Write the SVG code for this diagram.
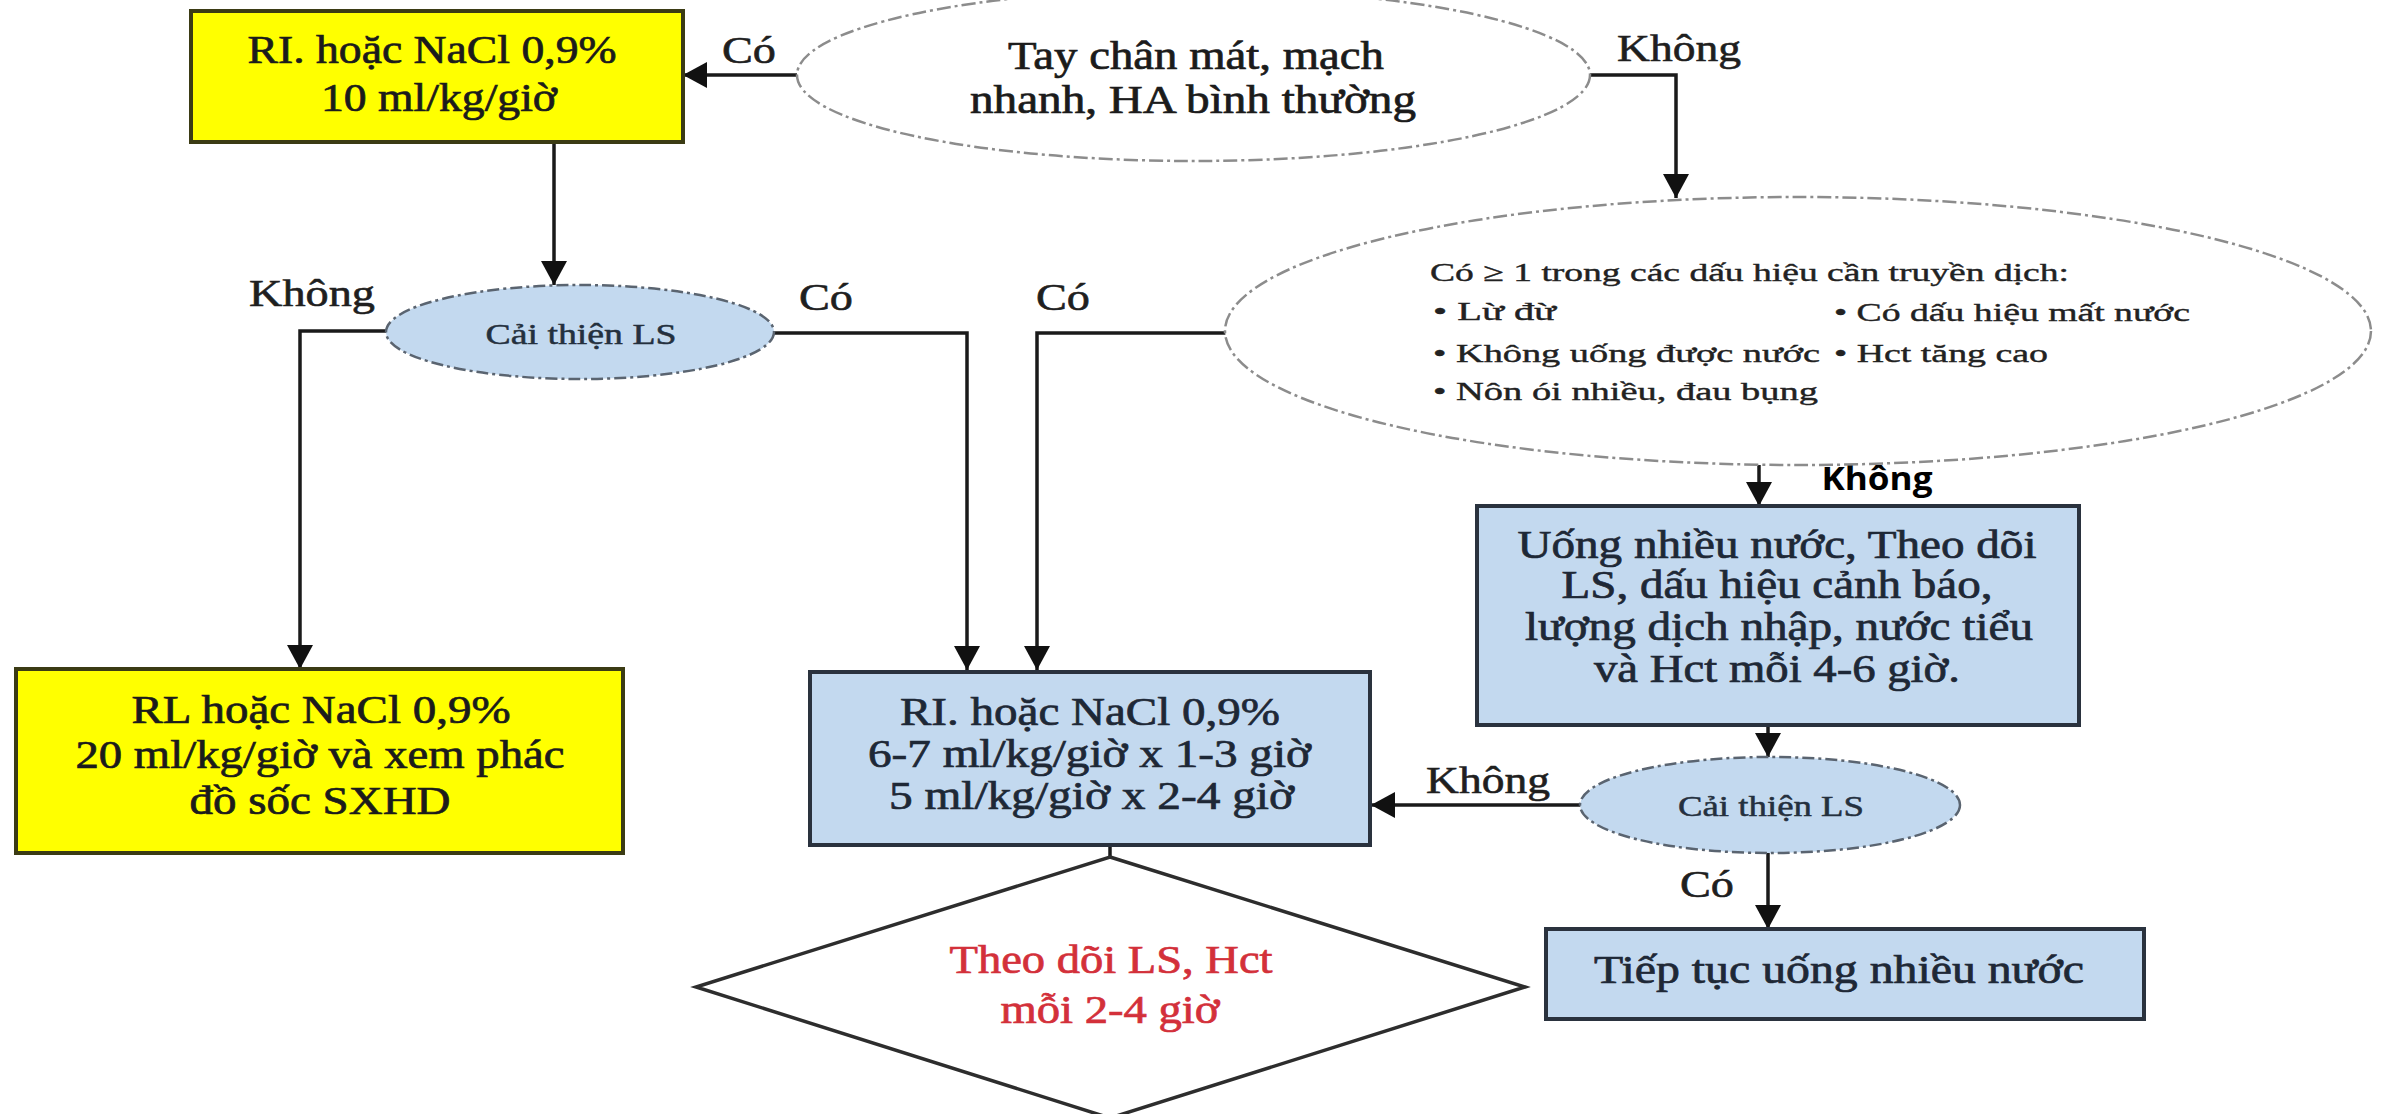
<svg xmlns="http://www.w3.org/2000/svg" width="2382" height="1114" viewBox="0 0 2382 1114">
  <defs>
    <style>
      .t { font-family: "Liberation Serif", "Times New Roman", serif; text-anchor: middle; }
      .big { font-size: 39px; fill: #1b1b1b; stroke: #1b1b1b; stroke-width: 0.7px; }
      .navy { fill: #1e2836; stroke: #1e2836; }
      .red { fill: #d3303a; stroke: #d3303a; }
      .small { font-size: 26px; fill: #222; stroke: #222; stroke-width: 0.4px; text-anchor: start; }
      .oval { font-size: 30px; fill: #24303e; stroke: #24303e; stroke-width: 0.5px; }
      .lbl { font-size: 38px; fill: #1f1f1f; stroke: #1f1f1f; stroke-width: 0.6px; }
      .sans { font-family: "Open Sans", "Noto Sans", sans-serif; font-weight: 700; font-size: 32px; fill: #000; text-anchor: middle; }
      .yellow { fill: #ffff00; stroke: #3b3b14; stroke-width: 4px; }
      .blue { fill: #c3d9ef; stroke: #2a323e; stroke-width: 4px; }
      .cloud { fill: #ffffff; stroke: #8c8c8c; stroke-width: 2.5px; stroke-dasharray: 14 4 3 4; }
      .pill { fill: #c3d9ef; stroke: #5a6470; stroke-width: 2.5px; stroke-dasharray: 12 4 3 4; }
      .diamond { fill: #ffffff; stroke: #2d2d2d; stroke-width: 3.5px; }
      .wire { fill: none; stroke: #1a1a1a; stroke-width: 3.5px; }
      .arrow { marker-end: url(#head); }
    </style>
    <marker id="head" markerUnits="userSpaceOnUse" markerWidth="24" markerHeight="26" refX="24" refY="13" orient="auto">
      <path d="M0,0 L24,13 L0,26 z" fill="#111"/>
    </marker>
  </defs>

  <rect width="2382" height="1114" fill="#ffffff"/>

  <!-- connectors -->
  <g id="connectors">
    <path class="wire arrow" d="M797,75 L683,75"/>
    <path class="wire arrow" d="M1590,75 L1676,75 L1676,198"/>
    <path class="wire arrow" d="M554,142 L554,285"/>
    <path class="wire arrow" d="M387,331 L300,331 L300,669"/>
    <path class="wire arrow" d="M773,333 L967,333 L967,670"/>
    <path class="wire arrow" d="M1226,333 L1037,333 L1037,670"/>
    <path class="wire arrow" d="M1759,465 L1759,506"/>
    <path class="wire arrow" d="M1768,725 L1768,757"/>
    <path class="wire arrow" d="M1581,805 L1371,805"/>
    <path class="wire arrow" d="M1768,853 L1768,929"/>
    <path class="wire" d="M1110,845 L1110,857"/>

    <text class="t lbl" x="749" y="63" textLength="54" lengthAdjust="spacingAndGlyphs">Có</text>
    <text class="t lbl" x="1679" y="61" textLength="124" lengthAdjust="spacingAndGlyphs">Không</text>
    <text class="t lbl" x="312" y="306" textLength="126" lengthAdjust="spacingAndGlyphs">Không</text>
    <text class="t lbl" x="826" y="310" textLength="54" lengthAdjust="spacingAndGlyphs">Có</text>
    <text class="t lbl" x="1063" y="310" textLength="54" lengthAdjust="spacingAndGlyphs">Có</text>
    <text class="sans" x="1877" y="490" textLength="111" lengthAdjust="spacingAndGlyphs">Không</text>
    <text class="t lbl" x="1488" y="793" textLength="124" lengthAdjust="spacingAndGlyphs">Không</text>
    <text class="t lbl" x="1707" y="897" textLength="54" lengthAdjust="spacingAndGlyphs">Có</text>
  </g>

  <!-- rapid infusion, first step -->
  <g id="fluid-10">
    <rect class="yellow" x="191" y="11" width="492" height="131"/>
    <text class="t big" x="432" y="63" textLength="369" lengthAdjust="spacingAndGlyphs">RI. hoặc NaCl 0,9%</text>
    <text class="t big" x="439" y="111" textLength="236" lengthAdjust="spacingAndGlyphs">10 ml/kg/giờ</text>
  </g>

  <!-- first assessment -->
  <g id="assess-circulation">
    <ellipse class="cloud" cx="1193.5" cy="75" rx="396.5" ry="86"/>
    <text class="t big" x="1196" y="69" textLength="376" lengthAdjust="spacingAndGlyphs">Tay chân mát, mạch</text>
    <text class="t big" x="1193" y="113" textLength="446" lengthAdjust="spacingAndGlyphs">nhanh, HA bình thường</text>
  </g>

  <!-- infusion criteria -->
  <g id="assess-infusion">
    <ellipse class="cloud" cx="1798" cy="331" rx="573" ry="134"/>
    <text class="t small" x="1430" y="281" textLength="639" lengthAdjust="spacingAndGlyphs">Có ≥ 1 trong các dấu hiệu cần truyền dịch:</text>
    <text class="t small" x="1433" y="320" textLength="123" lengthAdjust="spacingAndGlyphs">• Lừ đừ</text>
    <text class="t small" x="1834" y="321" textLength="356" lengthAdjust="spacingAndGlyphs">• Có dấu hiệu mất nước</text>
    <text class="t small" x="1433" y="362" textLength="387" lengthAdjust="spacingAndGlyphs">• Không uống được nước</text>
    <text class="t small" x="1834" y="362" textLength="214" lengthAdjust="spacingAndGlyphs">• Hct tăng cao</text>
    <text class="t small" x="1433" y="400" textLength="385" lengthAdjust="spacingAndGlyphs">• Nôn ói nhiều, đau bụng</text>
  </g>

  <!-- improvement check after first infusion -->
  <g id="improve-1">
    <ellipse class="pill" cx="580" cy="332" rx="194" ry="47"/>
    <text class="t oval" x="581" y="344" textLength="191" lengthAdjust="spacingAndGlyphs">Cải thiện LS</text>
  </g>

  <!-- shock protocol -->
  <g id="fluid-20">
    <rect class="yellow" x="16" y="669" width="607" height="184"/>
    <text class="t big" x="321" y="723" textLength="379" lengthAdjust="spacingAndGlyphs">RL hoặc NaCl 0,9%</text>
    <text class="t big" x="320" y="768" textLength="489" lengthAdjust="spacingAndGlyphs">20 ml/kg/giờ và xem phác</text>
    <text class="t big" x="320" y="814" textLength="261" lengthAdjust="spacingAndGlyphs">đồ sốc SXHD</text>
  </g>

  <!-- maintenance infusion -->
  <g id="fluid-maintain">
    <rect class="blue" x="810" y="672" width="560" height="173"/>
    <text class="t big navy" x="1090" y="725" textLength="380" lengthAdjust="spacingAndGlyphs">RI. hoặc NaCl 0,9%</text>
    <text class="t big navy" x="1089.5" y="767" textLength="443" lengthAdjust="spacingAndGlyphs">6-7 ml/kg/giờ x 1-3 giờ</text>
    <text class="t big navy" x="1091.5" y="809" textLength="405" lengthAdjust="spacingAndGlyphs">5 ml/kg/giờ x 2-4 giờ</text>
  </g>

  <!-- monitoring -->
  <g id="monitor">
    <polygon class="diamond" points="1110,857 1525,987 1110,1118 696,987"/>
    <text class="t big red" x="1111" y="973" textLength="323" lengthAdjust="spacingAndGlyphs">Theo dõi LS, Hct</text>
    <text class="t big red" x="1110" y="1023" textLength="219" lengthAdjust="spacingAndGlyphs">mỗi 2-4 giờ</text>
  </g>

  <!-- oral fluids and follow-up -->
  <g id="oral-care">
    <rect class="blue" x="1477" y="506" width="602" height="219"/>
    <text class="t big navy" x="1777" y="558" textLength="519" lengthAdjust="spacingAndGlyphs">Uống nhiều nước, Theo dõi</text>
    <text class="t big navy" x="1777" y="598" textLength="431" lengthAdjust="spacingAndGlyphs">LS, dấu hiệu cảnh báo,</text>
    <text class="t big navy" x="1779" y="640" textLength="508" lengthAdjust="spacingAndGlyphs">lượng dịch nhập, nước tiểu</text>
    <text class="t big navy" x="1777" y="682" textLength="366" lengthAdjust="spacingAndGlyphs">và Hct mỗi 4-6 giờ.</text>
  </g>

  <!-- improvement check after oral care -->
  <g id="improve-2">
    <ellipse class="pill" cx="1770" cy="805" rx="190" ry="48"/>
    <text class="t oval" x="1771" y="816" textLength="186" lengthAdjust="spacingAndGlyphs">Cải thiện LS</text>
  </g>

  <!-- continue oral fluids -->
  <g id="continue-oral">
    <rect class="blue" x="1546" y="929" width="598" height="90"/>
    <text class="t big navy" x="1839" y="983" textLength="490" lengthAdjust="spacingAndGlyphs">Tiếp tục uống nhiều nước</text>
  </g>
</svg>
